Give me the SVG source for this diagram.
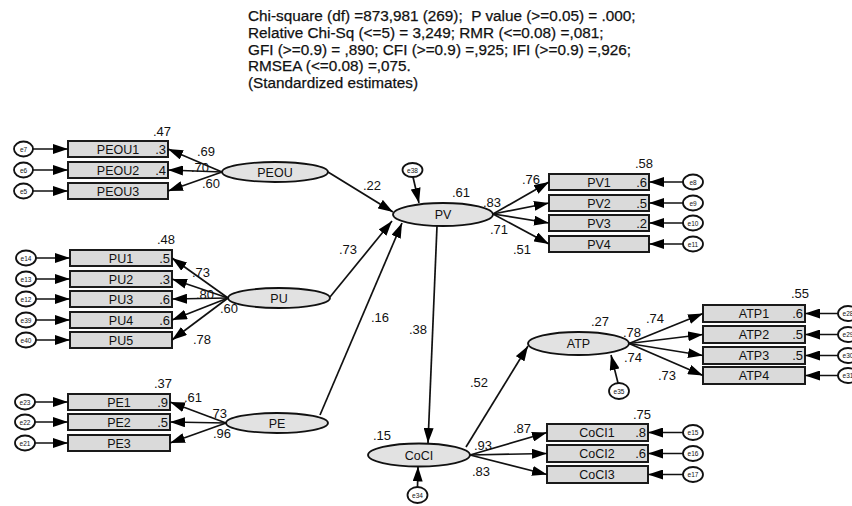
<svg xmlns="http://www.w3.org/2000/svg" width="852" height="506" viewBox="0 0 852 506">
<style>
text{font-family:"Liberation Sans",Arial,sans-serif;fill:#111}
.hd{font-size:15.3px;stroke:#111;stroke-width:0.25}
.obs{fill:#dadada;stroke:#1a1a1a;stroke-width:2}
.lat{fill:#e2e2e2;stroke:#111;stroke-width:1.8}
.err{fill:#fff;stroke:#111;stroke-width:1.8}
.nl{font-size:12.5px;text-anchor:middle}
.el{font-size:6.5px;text-anchor:middle}
.in{font-size:13px;text-anchor:end}
.v{font-size:13px;text-anchor:middle}
.c{stroke:#111;stroke-width:1.7;fill:none;marker-end:url(#ah)}
</style>
<defs>
<marker id="ah" viewBox="0 0 15 10" refX="15" refY="5" markerWidth="15" markerHeight="10" markerUnits="userSpaceOnUse" orient="auto"><path d="M0,0 L15,5 L0,10 z" fill="#000"/></marker>
</defs>
<rect width="852" height="506" fill="#fff"/>
<g id="header">
<text class="hd" x="248" y="21" xml:space="preserve">Chi-square (df) =873,981 (269);  P value (&gt;=0.05) = .000;</text>
<text class="hd" x="248" y="38">Relative Chi-Sq (&lt;=5) = 3,249; RMR (&lt;=0.08) =,081;</text>
<text class="hd" x="248" y="54.5">GFI (&gt;=0.9) = ,890; CFI (&gt;=0.9) =,925; IFI (&gt;=0.9) =,926;</text>
<text class="hd" x="248" y="71">RMSEA (&lt;=0.08) =,075.</text>
<text class="hd" x="248" y="88">(Standardized estimates)</text>
</g>

<!-- PEOU block -->
<g id="PEOU"><ellipse class="lat" cx="275" cy="172" rx="53" ry="10"/><text class="nl" x="275" y="176.5">PEOU</text></g>
<g id="PEOU1"><rect class="obs" x="68" y="141" width="100" height="16"/><text class="nl" x="118" y="153.5">PEOU1</text><text class="in" x="166" y="153.5">.3</text></g>
<g id="PEOU2"><rect class="obs" x="68" y="162" width="100" height="16"/><text class="nl" x="118" y="174.5">PEOU2</text><text class="in" x="166" y="174.5">.4</text></g>
<g id="PEOU3"><rect class="obs" x="68" y="183" width="100" height="16"/><text class="nl" x="118" y="195.5">PEOU3</text></g>
<g id="e7"><ellipse class="err" cx="23.5" cy="149" rx="9.5" ry="7.5"/><text class="el" x="23.5" y="151.5">e7</text></g>
<g id="e6"><ellipse class="err" cx="23.5" cy="170" rx="9.5" ry="7.5"/><text class="el" x="23.5" y="172.5">e6</text></g>
<g id="e5"><ellipse class="err" cx="23.5" cy="191" rx="9.5" ry="7.5"/><text class="el" x="23.5" y="193.5">e5</text></g>

<!-- PU block -->
<g id="PU"><ellipse class="lat" cx="279" cy="298" rx="51" ry="10"/><text class="nl" x="279" y="302.5">PU</text></g>
<g id="PU1"><rect class="obs" x="70" y="250" width="102" height="16"/><text class="nl" x="121" y="262.5">PU1</text><text class="in" x="170" y="262.5">.5</text></g>
<g id="PU2"><rect class="obs" x="70" y="271" width="102" height="16"/><text class="nl" x="121" y="283.5">PU2</text><text class="in" x="170" y="283.5">.3</text></g>
<g id="PU3"><rect class="obs" x="70" y="291" width="102" height="16"/><text class="nl" x="121" y="303.5">PU3</text><text class="in" x="170" y="303.5">.6</text></g>
<g id="PU4"><rect class="obs" x="70" y="312" width="102" height="16"/><text class="nl" x="121" y="324.5">PU4</text><text class="in" x="170" y="324.5">.6</text></g>
<g id="PU5"><rect class="obs" x="70" y="332" width="102" height="16"/><text class="nl" x="121" y="344.5">PU5</text></g>
<g id="e14"><ellipse class="err" cx="26" cy="258" rx="10" ry="7.5"/><text class="el" x="26" y="260.5">e14</text></g>
<g id="e13"><ellipse class="err" cx="26" cy="279" rx="10" ry="7.5"/><text class="el" x="26" y="281.5">e13</text></g>
<g id="e12"><ellipse class="err" cx="26" cy="299" rx="10" ry="7.5"/><text class="el" x="26" y="301.5">e12</text></g>
<g id="e39"><ellipse class="err" cx="26" cy="320" rx="10" ry="7.5"/><text class="el" x="26" y="322.5">e39</text></g>
<g id="e40"><ellipse class="err" cx="26" cy="340" rx="10" ry="7.5"/><text class="el" x="26" y="342.5">e40</text></g>

<!-- PE block -->
<g id="PE"><ellipse class="lat" cx="277" cy="423" rx="51" ry="10"/><text class="nl" x="277" y="427.5">PE</text></g>
<g id="PE1"><rect class="obs" x="68" y="394" width="102" height="16"/><text class="nl" x="119" y="406.5">PE1</text><text class="in" x="168" y="406.5">.9</text></g>
<g id="PE2"><rect class="obs" x="68" y="414" width="102" height="16"/><text class="nl" x="119" y="426.5">PE2</text><text class="in" x="168" y="426.5">.5</text></g>
<g id="PE3"><rect class="obs" x="68" y="435" width="102" height="16"/><text class="nl" x="119" y="447.5">PE3</text></g>
<g id="e23"><ellipse class="err" cx="25" cy="402" rx="10" ry="7.5"/><text class="el" x="25" y="404.5">e23</text></g>
<g id="e22"><ellipse class="err" cx="25" cy="422" rx="10" ry="7.5"/><text class="el" x="25" y="424.5">e22</text></g>
<g id="e21"><ellipse class="err" cx="25" cy="443" rx="10" ry="7.5"/><text class="el" x="25" y="445.5">e21</text></g>

<!-- PV block -->
<g id="PV"><ellipse class="lat" cx="443" cy="214.5" rx="50" ry="11.5"/><text class="nl" x="443" y="219">PV</text></g>
<g id="e38"><ellipse class="err" cx="412.5" cy="170" rx="10" ry="7"/><text class="el" x="412.5" y="172.5">e38</text></g>
<g id="PV1"><rect class="obs" x="549" y="174" width="100" height="16"/><text class="nl" x="599" y="186.5">PV1</text><text class="in" x="647" y="186.5">.6</text></g>
<g id="PV2"><rect class="obs" x="549" y="195" width="100" height="16"/><text class="nl" x="599" y="207.5">PV2</text><text class="in" x="647" y="207.5">.5</text></g>
<g id="PV3"><rect class="obs" x="549" y="215" width="100" height="16"/><text class="nl" x="599" y="227.5">PV3</text><text class="in" x="647" y="227.5">.2</text></g>
<g id="PV4"><rect class="obs" x="549" y="236" width="100" height="16"/><text class="nl" x="599" y="248.5">PV4</text></g>
<g id="e8"><ellipse class="err" cx="693" cy="182" rx="10" ry="7.5"/><text class="el" x="693" y="184.5">e8</text></g>
<g id="e9"><ellipse class="err" cx="693" cy="203" rx="10" ry="7.5"/><text class="el" x="693" y="205.5">e9</text></g>
<g id="e10"><ellipse class="err" cx="693" cy="223" rx="10" ry="7.5"/><text class="el" x="693" y="225.5">e10</text></g>
<g id="e11"><ellipse class="err" cx="693" cy="244" rx="10" ry="7.5"/><text class="el" x="693" y="246.5">e11</text></g>

<!-- ATP block -->
<g id="ATP"><ellipse class="lat" cx="578.5" cy="343.5" rx="50.5" ry="11.5"/><text class="nl" x="578.5" y="348">ATP</text></g>
<g id="e35"><ellipse class="err" cx="619" cy="391" rx="10" ry="8"/><text class="el" x="619" y="393.5">e35</text></g>
<g id="ATP1"><rect class="obs" x="703" y="305" width="102" height="17"/><text class="nl" x="754" y="318">ATP1</text><text class="in" x="803" y="318">.6</text></g>
<g id="ATP2"><rect class="obs" x="703" y="326" width="102" height="17"/><text class="nl" x="754" y="339">ATP2</text><text class="in" x="803" y="339">.5</text></g>
<g id="ATP3"><rect class="obs" x="703" y="347" width="102" height="17"/><text class="nl" x="754" y="360">ATP3</text><text class="in" x="803" y="360">.5</text></g>
<g id="ATP4"><rect class="obs" x="703" y="367" width="102" height="17"/><text class="nl" x="754" y="380">ATP4</text></g>
<g id="e28"><ellipse class="err" cx="848" cy="313.5" rx="10" ry="7.5"/><text class="el" x="848" y="316">e28</text></g>
<g id="e29"><ellipse class="err" cx="848" cy="334.5" rx="10" ry="7.5"/><text class="el" x="848" y="337">e29</text></g>
<g id="e30"><ellipse class="err" cx="848" cy="355.5" rx="10" ry="7.5"/><text class="el" x="848" y="358">e30</text></g>
<g id="e31"><ellipse class="err" cx="848" cy="375.5" rx="10" ry="7.5"/><text class="el" x="848" y="378">e31</text></g>

<!-- CoCI block -->
<g id="CoCI"><ellipse class="lat" cx="419" cy="455" rx="51" ry="11.5"/><text class="nl" x="419" y="459.5">CoCI</text></g>
<g id="e34"><ellipse class="err" cx="417.5" cy="495" rx="10" ry="8"/><text class="el" x="417.5" y="497.5">e34</text></g>
<g id="CoCI1"><rect class="obs" x="547" y="424" width="101" height="17"/><text class="nl" x="597" y="437">CoCI1</text><text class="in" x="646" y="437">.8</text></g>
<g id="CoCI2"><rect class="obs" x="547" y="445" width="101" height="17"/><text class="nl" x="597" y="458">CoCI2</text><text class="in" x="646" y="458">.6</text></g>
<g id="CoCI3"><rect class="obs" x="547" y="466" width="101" height="17"/><text class="nl" x="597" y="479">CoCI3</text></g>
<g id="e15"><ellipse class="err" cx="693" cy="432.5" rx="10" ry="7.5"/><text class="el" x="693" y="435">e15</text></g>
<g id="e16"><ellipse class="err" cx="693" cy="453.5" rx="10" ry="7.5"/><text class="el" x="693" y="456">e16</text></g>
<g id="e17"><ellipse class="err" cx="693" cy="474.5" rx="10" ry="7.5"/><text class="el" x="693" y="477">e17</text></g>

<g id="connectors">
<line class="c" x1="33" y1="149" x2="68" y2="149"/>
<line class="c" x1="33" y1="170" x2="68" y2="170"/>
<line class="c" x1="33" y1="191" x2="68" y2="191"/>
<line class="c" x1="36" y1="258" x2="70" y2="258"/>
<line class="c" x1="36" y1="279" x2="70" y2="279"/>
<line class="c" x1="36" y1="299" x2="70" y2="299"/>
<line class="c" x1="36" y1="320" x2="70" y2="320"/>
<line class="c" x1="36" y1="340" x2="70" y2="340"/>
<line class="c" x1="35" y1="402" x2="68" y2="402"/>
<line class="c" x1="35" y1="422" x2="68" y2="422"/>
<line class="c" x1="35" y1="443" x2="68" y2="443"/>
<line class="c" x1="222" y1="172" x2="168" y2="149"/>
<line class="c" x1="222" y1="172" x2="168" y2="170"/>
<line class="c" x1="222" y1="172" x2="168" y2="191"/>
<line class="c" x1="228" y1="298" x2="172" y2="258"/>
<line class="c" x1="228" y1="298" x2="172" y2="279"/>
<line class="c" x1="228" y1="298" x2="172" y2="299"/>
<line class="c" x1="228" y1="298" x2="172" y2="320"/>
<line class="c" x1="228" y1="298" x2="172" y2="340"/>
<line class="c" x1="226" y1="423" x2="170" y2="402"/>
<line class="c" x1="226" y1="423" x2="170" y2="422"/>
<line class="c" x1="226" y1="423" x2="170" y2="443"/>
<line class="c" x1="328" y1="172" x2="393" y2="212"/>
<line class="c" x1="330" y1="297" x2="392" y2="221"/>
<line class="c" x1="320" y1="415" x2="402" y2="223"/>
<line class="c" x1="437" y1="226" x2="428" y2="443"/>
<line class="c" x1="466" y1="447" x2="528" y2="346"/>
<line class="c" x1="413" y1="177" x2="419" y2="203"/>
<line class="c" x1="618" y1="383" x2="611" y2="355"/>
<line class="c" x1="417.5" y1="487" x2="418" y2="466.5"/>
<line class="c" x1="493" y1="214" x2="549" y2="182"/>
<line class="c" x1="493" y1="214" x2="549" y2="203"/>
<line class="c" x1="493" y1="214" x2="549" y2="223"/>
<line class="c" x1="493" y1="214" x2="549" y2="244"/>
<line class="c" x1="683" y1="182" x2="649" y2="182"/>
<line class="c" x1="683" y1="203" x2="649" y2="203"/>
<line class="c" x1="683" y1="223" x2="649" y2="223"/>
<line class="c" x1="683" y1="244" x2="649" y2="244"/>
<line class="c" x1="629" y1="343.5" x2="703" y2="313.5"/>
<line class="c" x1="629" y1="343.5" x2="703" y2="334.5"/>
<line class="c" x1="629" y1="343.5" x2="703" y2="355.5"/>
<line class="c" x1="629" y1="343.5" x2="703" y2="375.5"/>
<line class="c" x1="838" y1="313.5" x2="805" y2="313.5"/>
<line class="c" x1="838" y1="334.5" x2="805" y2="334.5"/>
<line class="c" x1="838" y1="355.5" x2="805" y2="355.5"/>
<line class="c" x1="838" y1="375.5" x2="805" y2="375.5"/>
<line class="c" x1="470" y1="455" x2="547" y2="432.5"/>
<line class="c" x1="470" y1="455" x2="547" y2="453.5"/>
<line class="c" x1="470" y1="455" x2="547" y2="474.5"/>
<line class="c" x1="683" y1="432.5" x2="648" y2="432.5"/>
<line class="c" x1="683" y1="453.5" x2="648" y2="453.5"/>
<line class="c" x1="683" y1="474.5" x2="648" y2="474.5"/>
</g>

<g id="estimates">
<text class="v" x="162" y="135.5">.47</text>
<text class="v" x="206" y="155.5">.69</text>
<text class="v" x="200" y="171.5">.70</text>
<text class="v" x="211" y="187.5">.60</text>
<text class="v" x="166" y="243.5">.48</text>
<text class="v" x="201" y="276.5">.73</text>
<text class="v" x="205" y="298.5">.80</text>
<text class="v" x="229" y="312.5">.60</text>
<text class="v" x="202" y="343.5">.78</text>
<text class="v" x="163" y="387.5">.37</text>
<text class="v" x="193" y="401.5">.61</text>
<text class="v" x="218" y="417.5">.73</text>
<text class="v" x="222" y="437.5">.96</text>
<text class="v" x="372" y="189.5">.22</text>
<text class="v" x="348" y="253.5">.73</text>
<text class="v" x="380" y="321.5">.16</text>
<text class="v" x="418" y="333.5">.38</text>
<text class="v" x="461" y="196.5">.61</text>
<text class="v" x="492" y="206.5">.83</text>
<text class="v" x="499" y="233.5">.71</text>
<text class="v" x="644" y="167.5">.58</text>
<text class="v" x="531" y="183.5">.76</text>
<text class="v" x="522" y="253.5">.51</text>
<text class="v" x="479" y="386.5">.52</text>
<text class="v" x="382" y="439.5">.15</text>
<text class="v" x="522" y="432.5">.87</text>
<text class="v" x="483" y="449.5">.93</text>
<text class="v" x="481" y="475.5">.83</text>
<text class="v" x="642" y="418.5">.75</text>
<text class="v" x="600" y="325.5">.27</text>
<text class="v" x="632" y="336.5">.78</text>
<text class="v" x="655" y="322.5">.74</text>
<text class="v" x="633" y="361.5">.74</text>
<text class="v" x="667" y="379.5">.73</text>
<text class="v" x="800" y="297.5">.55</text>
</g>
</svg>
